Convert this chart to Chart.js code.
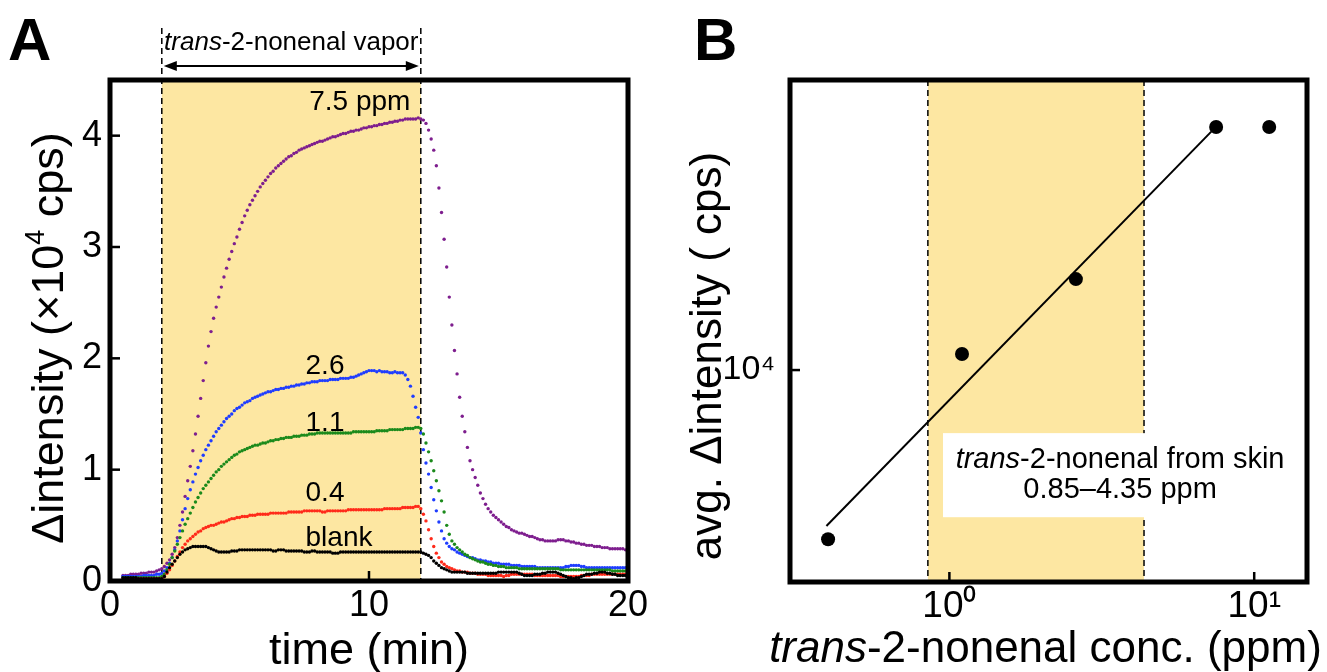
<!DOCTYPE html>
<html>
<head>
<meta charset="utf-8">
<script src="https://cdn.jsdelivr.net/npm/chart.js@4"></script>
<style>
  html, body { margin: 0; padding: 0; background: #fff; }
  #wrap { position: relative; width: 1327px; height: 672px; overflow: hidden; }
  canvas { position: absolute; top: 0; }
  #chartA { left: 0; }
  #chartB { left: 660px; }
</style>
</head>
<body>
<div id="wrap">
  <canvas id="chartA" width="660" height="672"></canvas>
  <canvas id="chartB" width="667" height="672"></canvas>
</div>
<script>
// ---- panel A: response vs time, one reading every 0.1 min from 0.5 to 20 min (x10^4 cps)
const tStart = 0.5, tStep = 0.1;

const blank = [
  0.03, 0.03, 0.03, 0.03, 0.03,
  0.03, 0.02, 0.02, 0.02, 0.02, 0.02, 0.02, 0.02, 0.02, 0.02,
  0.02, 0.04, 0.08, 0.12, 0.15, 0.18, 0.21, 0.24, 0.26, 0.28,
  0.29, 0.30, 0.31, 0.31, 0.31, 0.31, 0.31, 0.31, 0.30, 0.29,
  0.28, 0.27, 0.26, 0.26, 0.26, 0.26, 0.26, 0.27, 0.27, 0.27,
  0.28, 0.28, 0.28, 0.28, 0.28, 0.28, 0.28, 0.28, 0.28, 0.28,
  0.28, 0.28, 0.28, 0.27, 0.27, 0.28, 0.28, 0.28, 0.27, 0.27,
  0.27, 0.27, 0.27, 0.27, 0.27, 0.26, 0.26, 0.26, 0.27, 0.27,
  0.26, 0.26, 0.26, 0.26, 0.26, 0.26, 0.25, 0.25, 0.25, 0.26,
  0.26, 0.26, 0.26, 0.26, 0.26, 0.26, 0.26, 0.26, 0.26, 0.26,
  0.26, 0.26, 0.26, 0.26, 0.26, 0.26, 0.26, 0.26, 0.26, 0.26,
  0.26, 0.26, 0.26, 0.26, 0.26, 0.26, 0.26, 0.26, 0.26, 0.26,
  0.26, 0.25, 0.24, 0.23, 0.21, 0.18, 0.16, 0.14, 0.12, 0.11,
  0.10, 0.09, 0.08, 0.08, 0.08, 0.08, 0.08, 0.08, 0.07, 0.07,
  0.07, 0.07, 0.07, 0.07, 0.07, 0.07, 0.07, 0.07, 0.07, 0.07,
  0.08, 0.08, 0.08, 0.08, 0.08, 0.08, 0.08, 0.08, 0.07, 0.06,
  0.05, 0.05, 0.05, 0.05, 0.06, 0.06, 0.06, 0.07, 0.07, 0.08,
  0.08, 0.08, 0.08, 0.07, 0.06, 0.05, 0.04, 0.03, 0.03, 0.02,
  0.03, 0.03, 0.04, 0.05, 0.06, 0.06, 0.06, 0.07, 0.07, 0.08,
  0.08, 0.08, 0.07, 0.07, 0.06, 0.06, 0.05, 0.05, 0.05, 0.05,
  0.05
];

const ppm04 = [
  0.02, 0.02, 0.02, 0.02, 0.02,
  0.02, 0.02, 0.02, 0.02, 0.02, 0.02, 0.02, 0.02, 0.02, 0.02,
  0.02, 0.04, 0.07, 0.10, 0.14, 0.18, 0.22, 0.26, 0.30, 0.33,
  0.36, 0.38, 0.40, 0.42, 0.44, 0.45, 0.47, 0.48, 0.49, 0.50,
  0.50, 0.51, 0.52, 0.53, 0.53, 0.54, 0.55, 0.56, 0.56, 0.57,
  0.57, 0.58, 0.58, 0.58, 0.59, 0.59, 0.59, 0.60, 0.60, 0.60,
  0.60, 0.60, 0.61, 0.61, 0.61, 0.61, 0.61, 0.61, 0.61, 0.62,
  0.62, 0.62, 0.62, 0.62, 0.62, 0.63, 0.63, 0.63, 0.63, 0.63,
  0.63, 0.63, 0.62, 0.62, 0.63, 0.63, 0.63, 0.63, 0.63, 0.63,
  0.63, 0.63, 0.64, 0.64, 0.64, 0.64, 0.64, 0.64, 0.64, 0.64,
  0.64, 0.64, 0.64, 0.64, 0.64, 0.64, 0.65, 0.65, 0.65, 0.65,
  0.65, 0.65, 0.65, 0.66, 0.66, 0.66, 0.66, 0.66, 0.67, 0.67,
  0.65, 0.60, 0.54, 0.46, 0.38, 0.31, 0.25, 0.21, 0.17, 0.15,
  0.13, 0.12, 0.11, 0.10, 0.09, 0.09, 0.08, 0.08, 0.08, 0.07,
  0.07, 0.07, 0.06, 0.06, 0.06, 0.06, 0.05, 0.05, 0.05, 0.05,
  0.05, 0.05, 0.04, 0.05, 0.05, 0.06, 0.06, 0.06, 0.06, 0.06,
  0.06, 0.06, 0.06, 0.06, 0.05, 0.05, 0.05, 0.05, 0.05, 0.05,
  0.05, 0.05, 0.05, 0.05, 0.04, 0.04, 0.04, 0.04, 0.04, 0.04,
  0.04, 0.04, 0.05, 0.05, 0.05, 0.05, 0.06, 0.06, 0.06, 0.06,
  0.06, 0.06, 0.06, 0.06, 0.06, 0.06, 0.06, 0.06, 0.06, 0.06,
  0.06
];

const ppm11 = [
  0.03, 0.03, 0.03, 0.03, 0.03,
  0.03, 0.03, 0.03, 0.03, 0.03, 0.03, 0.03, 0.03, 0.03, 0.03,
  0.04, 0.06, 0.10, 0.15, 0.21, 0.27, 0.33, 0.39, 0.45, 0.51,
  0.56, 0.61, 0.66, 0.71, 0.75, 0.79, 0.83, 0.86, 0.89, 0.92,
  0.95, 0.98, 1.00, 1.03, 1.05, 1.07, 1.09, 1.11, 1.13, 1.14,
  1.16, 1.17, 1.18, 1.19, 1.20, 1.21, 1.22, 1.22, 1.23, 1.24,
  1.24, 1.25, 1.26, 1.26, 1.27, 1.27, 1.28, 1.28, 1.29, 1.29,
  1.29, 1.30, 1.30, 1.30, 1.31, 1.31, 1.31, 1.32, 1.32, 1.32,
  1.33, 1.33, 1.33, 1.33, 1.33, 1.33, 1.33, 1.33, 1.33, 1.33,
  1.33, 1.33, 1.33, 1.33, 1.34, 1.34, 1.34, 1.34, 1.34, 1.34,
  1.34, 1.34, 1.34, 1.35, 1.35, 1.35, 1.35, 1.35, 1.36, 1.36,
  1.36, 1.36, 1.36, 1.36, 1.37, 1.37, 1.37, 1.37, 1.38, 1.38,
  1.37, 1.32, 1.24, 1.16, 1.08, 0.99, 0.90, 0.81, 0.72, 0.62,
  0.50, 0.42, 0.36, 0.33, 0.30, 0.28, 0.26, 0.24, 0.23, 0.21,
  0.20, 0.19, 0.18, 0.17, 0.17, 0.16, 0.15, 0.15, 0.14, 0.14,
  0.13, 0.13, 0.13, 0.12, 0.12, 0.12, 0.12, 0.12, 0.11, 0.11,
  0.11, 0.11, 0.11, 0.11, 0.11, 0.11, 0.11, 0.11, 0.11, 0.11,
  0.11, 0.11, 0.11, 0.11, 0.10, 0.10, 0.10, 0.10, 0.10, 0.10,
  0.10, 0.10, 0.10, 0.10, 0.10, 0.10, 0.10, 0.10, 0.10, 0.10,
  0.10, 0.10, 0.10, 0.10, 0.09, 0.09, 0.09, 0.09, 0.09, 0.09,
  0.09
];

const ppm26 = [
  0.04, 0.04, 0.04, 0.04, 0.04,
  0.04, 0.04, 0.04, 0.05, 0.05, 0.05, 0.05, 0.05, 0.06, 0.06,
  0.07, 0.09, 0.12, 0.16, 0.21, 0.28, 0.36, 0.45, 0.55, 0.65,
  0.74, 0.82, 0.89, 0.96, 1.02, 1.08, 1.13, 1.18, 1.22, 1.26,
  1.30, 1.34, 1.37, 1.40, 1.43, 1.46, 1.48, 1.50, 1.53, 1.55,
  1.56, 1.58, 1.60, 1.61, 1.62, 1.64, 1.65, 1.66, 1.67, 1.68,
  1.69, 1.70, 1.70, 1.71, 1.72, 1.72, 1.73, 1.73, 1.74, 1.74,
  1.75, 1.75, 1.76, 1.76, 1.77, 1.77, 1.78, 1.78, 1.79, 1.79,
  1.79, 1.80, 1.80, 1.80, 1.80, 1.81, 1.81, 1.81, 1.81, 1.82,
  1.82, 1.82, 1.82, 1.83, 1.83, 1.84, 1.85, 1.86, 1.87, 1.88,
  1.89, 1.89, 1.89, 1.88, 1.89, 1.88, 1.88, 1.88, 1.87, 1.87,
  1.88, 1.87, 1.87, 1.87, 1.85, 1.81, 1.75, 1.66, 1.56, 1.47,
  1.33, 1.18, 1.06, 0.96, 0.84, 0.73, 0.63, 0.53, 0.45, 0.38,
  0.34, 0.31, 0.29, 0.28, 0.26, 0.25, 0.24, 0.23, 0.22, 0.21,
  0.21, 0.20, 0.19, 0.19, 0.18, 0.18, 0.17, 0.17, 0.16, 0.16,
  0.16, 0.15, 0.15, 0.15, 0.15, 0.14, 0.14, 0.14, 0.14, 0.13,
  0.13, 0.13, 0.13, 0.13, 0.13, 0.12, 0.12, 0.12, 0.12, 0.12,
  0.12, 0.12, 0.12, 0.12, 0.12, 0.12, 0.13, 0.13, 0.14, 0.14,
  0.14, 0.14, 0.13, 0.13, 0.12, 0.12, 0.12, 0.12, 0.12, 0.12,
  0.12, 0.12, 0.12, 0.12, 0.12, 0.12, 0.12, 0.12, 0.12, 0.12,
  0.12
];

const ppm75 = [
  0.05, 0.05, 0.05, 0.06, 0.06,
  0.06, 0.06, 0.07, 0.07, 0.07, 0.08, 0.08, 0.08, 0.09, 0.10,
  0.11, 0.13, 0.16, 0.19, 0.24, 0.30, 0.39, 0.50, 0.62, 0.76,
  0.90, 1.03, 1.17, 1.32, 1.48, 1.64, 1.80, 1.96, 2.11, 2.24,
  2.36, 2.46, 2.55, 2.64, 2.73, 2.81, 2.89, 2.96, 3.03, 3.09,
  3.16, 3.22, 3.28, 3.33, 3.38, 3.42, 3.46, 3.50, 3.54, 3.57,
  3.60, 3.63, 3.66, 3.68, 3.71, 3.73, 3.75, 3.77, 3.79, 3.81,
  3.82, 3.84, 3.85, 3.87, 3.88, 3.89, 3.90, 3.91, 3.92, 3.93,
  3.94, 3.95, 3.95, 3.96, 3.97, 3.98, 3.99, 3.99, 4.00, 4.01,
  4.02, 4.02, 4.03, 4.04, 4.04, 4.05, 4.05, 4.06, 4.07, 4.07,
  4.08, 4.08, 4.09, 4.09, 4.10, 4.10, 4.11, 4.11, 4.12, 4.12,
  4.13, 4.13, 4.14, 4.14, 4.15, 4.15, 4.15, 4.15, 4.15, 4.16,
  4.15, 4.14, 4.11, 4.05, 3.97, 3.87, 3.73, 3.53, 3.31, 3.07,
  2.82, 2.55, 2.30, 2.07, 1.86, 1.65, 1.48, 1.34, 1.20, 1.08,
  1.00, 0.93, 0.86, 0.79, 0.74, 0.69, 0.65, 0.62, 0.59, 0.57,
  0.55, 0.53, 0.51, 0.49, 0.48, 0.46, 0.45, 0.44, 0.43, 0.43,
  0.42, 0.41, 0.40, 0.40, 0.39, 0.38, 0.37, 0.37, 0.36, 0.36,
  0.36, 0.36, 0.36, 0.37, 0.37, 0.37, 0.36, 0.36, 0.35, 0.35,
  0.34, 0.34, 0.33, 0.33, 0.32, 0.32, 0.32, 0.31, 0.31, 0.31,
  0.30, 0.30, 0.30, 0.29, 0.29, 0.29, 0.29, 0.29, 0.29, 0.28,
  0.28
];

const times = blank.map((_, i) => +(tStart + i * tStep).toFixed(1));
const timeTicks = [0, 10, 20];
const intensityTicks = [0, 1, 2, 3, 4];
const vaporOn = 2, vaporOff = 12;
const curveLabels = ['7.5 ppm', '2.6', '1.1', '0.4', 'blank'];

// ---- panel B: average response vs concentration (log-log)
const conc = [0.4, 1.1, 2.6, 7.5, 11.2];
const avgIntensity = [4590, 10770, 15200, 30600, 30600];
const fitConc = [0.395, 7.23];
const fitIntensity = [4880, 29970];
const skinRange = [0.85, 4.35];
const concTicks = [1, 10];
const avgTicks = [10000];

// ---- styling
const FONT = '"Liberation Sans", Arial, Helvetica, sans-serif';
const SHADE = '#fde7a2';
const f = (size, style) => (style ? style + ' ' : '') + size + 'px ' + FONT;
const SUP = {'0': '\u2070', '1': '\u00b9', '2': '\u00b2', '3': '\u00b3', '4': '\u2074'};
const pow10 = v => '10' + String(Math.round(Math.log10(v))).split('').map(c => SUP[c]).join('');

Chart.defaults.font.family = FONT;
Chart.defaults.color = '#000';

function drawRich(ctx, parts, x, y, align) {
  let w = 0;
  for (const p of parts) { ctx.font = p.font; w += ctx.measureText(p.text).width; }
  let cx = align === 'center' ? x - w / 2 : align === 'right' ? x - w : x;
  ctx.textAlign = 'left';
  ctx.textBaseline = 'alphabetic';
  for (const p of parts) {
    ctx.font = p.font;
    ctx.fillText(p.text, cx, y + (p.dy || 0));
    cx += ctx.measureText(p.text).width;
  }
}

function frameAndTicks(chart) {
  const {ctx, chartArea: a, scales: {x, y}} = chart;
  ctx.save();
  ctx.strokeStyle = '#000';
  ctx.lineWidth = 2.5;
  x.ticks.forEach(t => {
    const px = x.getPixelForValue(t.value);
    ctx.beginPath(); ctx.moveTo(px, a.bottom); ctx.lineTo(px, a.bottom - 10); ctx.stroke();
  });
  y.ticks.forEach(t => {
    const py = y.getPixelForValue(t.value);
    ctx.beginPath(); ctx.moveTo(a.left, py); ctx.lineTo(a.left + 10, py); ctx.stroke();
  });
  ctx.lineWidth = 5;
  ctx.strokeRect(a.left, a.top, a.right - a.left, a.bottom - a.top);
  ctx.restore();
}

function rotatedTitle(ctx, parts, x, y) {
  ctx.save();
  ctx.translate(x, y);
  ctx.rotate(-Math.PI / 2);
  drawRich(ctx, parts, 0, 0, 'center');
  ctx.restore();
}

const panelA = {
  id: 'panelA',
  beforeDatasetsDraw(chart) {
    const {ctx, chartArea: a, scales: {x}} = chart;
    const x0 = x.getPixelForValue(vaporOn), x1 = x.getPixelForValue(vaporOff);
    ctx.save();
    ctx.fillStyle = SHADE;
    ctx.fillRect(x0, a.top, x1 - x0, a.bottom - a.top);
    ctx.strokeStyle = '#000';
    ctx.lineWidth = 1.5;
    ctx.setLineDash([6, 4]);
    [x0, x1].forEach(px => {
      ctx.beginPath(); ctx.moveTo(px, 28); ctx.lineTo(px, a.bottom); ctx.stroke();
    });
    ctx.restore();
  },
  afterDraw(chart) {
    const {ctx, scales: {x, y}} = chart;
    frameAndTicks(chart);
    ctx.save();
    ctx.fillStyle = '#000';
    // curve labels
    const lx = x.getPixelForValue(7.55);
    drawRich(ctx, [{text: curveLabels[0], font: f(28)}], x.getPixelForValue(11.6), y.getPixelForValue(4.23), 'right');
    drawRich(ctx, [{text: curveLabels[1], font: f(28)}], lx, y.getPixelForValue(1.86), 'left');
    drawRich(ctx, [{text: curveLabels[2], font: f(28)}], lx, y.getPixelForValue(1.35), 'left');
    drawRich(ctx, [{text: curveLabels[3], font: f(28)}], lx, y.getPixelForValue(0.72), 'left');
    drawRich(ctx, [{text: curveLabels[4], font: f(28)}], lx, y.getPixelForValue(0.31), 'left');
    // exposure arrow
    const x0 = x.getPixelForValue(vaporOn) + 2, x1 = x.getPixelForValue(vaporOff) - 2, ay = 66;
    ctx.strokeStyle = '#000';
    ctx.lineWidth = 2;
    ctx.beginPath(); ctx.moveTo(x0 + 8, ay); ctx.lineTo(x1 - 8, ay); ctx.stroke();
    ctx.beginPath(); ctx.moveTo(x0, ay); ctx.lineTo(x0 + 13, ay - 5); ctx.lineTo(x0 + 13, ay + 5); ctx.closePath(); ctx.fill();
    ctx.beginPath(); ctx.moveTo(x1, ay); ctx.lineTo(x1 - 13, ay - 5); ctx.lineTo(x1 - 13, ay + 5); ctx.closePath(); ctx.fill();
    drawRich(ctx, [{text: 'trans', font: f(26, 'italic')}, {text: '-2-nonenal vapor', font: f(26)}], (x0 + x1) / 2, 50, 'center');
    // panel letter and axis titles
    drawRich(ctx, [{text: 'A', font: f(60, 'bold')}], 8, 60, 'left');
    drawRich(ctx, [{text: 'time (min)', font: f(45)}], x.getPixelForValue(10), 664, 'center');
    rotatedTitle(ctx, [
      {text: '\u0394intensity (\u00d710', font: f(45)},
      {text: '4', font: f(27), dy: -19},
      {text: ' cps)', font: f(45)}
    ], 63, 338);
    ctx.restore();
  }
};

const panelB = {
  id: 'panelB',
  beforeDatasetsDraw(chart) {
    const {ctx, chartArea: a, scales: {x, y}} = chart;
    const x0 = x.getPixelForValue(skinRange[0]), x1 = x.getPixelForValue(skinRange[1]);
    ctx.save();
    ctx.fillStyle = SHADE;
    ctx.fillRect(x0, a.top, x1 - x0, a.bottom - a.top);
    ctx.strokeStyle = '#000';
    ctx.lineWidth = 1.5;
    ctx.setLineDash([6, 4]);
    [x0, x1].forEach(px => {
      ctx.beginPath(); ctx.moveTo(px, a.top); ctx.lineTo(px, a.bottom); ctx.stroke();
    });
    ctx.setLineDash([]);
    // label box
    const bx0 = x.getPixelForValue(0.953), bx1 = x.getPixelForValue(13.8);
    const by0 = y.getPixelForValue(7480), by1 = y.getPixelForValue(5080);
    ctx.fillStyle = '#fff';
    ctx.fillRect(bx0, by0, bx1 - bx0, by1 - by0);
    ctx.fillStyle = '#000';
    const cx = x.getPixelForValue(3.63);
    drawRich(ctx, [{text: 'trans', font: f(29, 'italic')}, {text: '-2-nonenal from skin', font: f(29)}], cx, y.getPixelForValue(6370), 'center');
    drawRich(ctx, [{text: '0.85\u20134.35 ppm', font: f(29)}], cx, y.getPixelForValue(5550), 'center');
    ctx.restore();
  },
  afterDraw(chart) {
    const {ctx} = chart;
    frameAndTicks(chart);
    ctx.save();
    ctx.fillStyle = '#000';
    drawRich(ctx, [{text: 'B', font: f(60, 'bold')}], 34, 60, 'left');
    drawRich(ctx, [{text: 'trans', font: f(44, 'italic')}, {text: '-2-nonenal conc. (ppm)', font: f(44)}],
      (chart.chartArea.left + chart.chartArea.right) / 2 - 3, 662, 'center');
    rotatedTitle(ctx, [{text: 'avg. \u0394intensity ( cps)', font: f(44)}], 61, 356);
    ctx.restore();
  }
};

function series(values, color) {
  return {
    data: times.map((t, i) => ({x: t, y: values[i]})),
    showLine: false,
    pointRadius: 1.7,
    pointBorderWidth: 0,
    pointBackgroundColor: color,
    borderColor: color
  };
}

const bareGrid = {display: false, drawTicks: false};
const noBorder = {display: false};

new Chart(document.getElementById('chartA'), {
  type: 'line',
  data: {
    datasets: [
      series(blank, '#000000'),
      series(ppm04, '#ff2a1a'),
      series(ppm11, '#1b8a1b'),
      series(ppm26, '#1f3dff'),
      series(ppm75, '#7e1e8e')
    ]
  },
  options: {
    responsive: false,
    animation: false,
    devicePixelRatio: 1,
    layout: {padding: {left: 0, right: 32, top: 80, bottom: 0}},
    plugins: {legend: {display: false}, tooltip: {enabled: false}},
    scales: {
      x: {
        type: 'linear', min: 0, max: 20,
        grid: bareGrid, border: noBorder,
        afterFit: s => { s.height = 91; },
        afterBuildTicks: s => { s.ticks = timeTicks.map(v => ({value: v})); },
        ticks: {font: {size: 36}, padding: 3, maxRotation: 0, autoSkip: false}
      },
      y: {
        min: 0, max: 4.5,
        grid: bareGrid, border: noBorder,
        afterFit: s => { s.width = 110; },
        afterBuildTicks: s => { s.ticks = intensityTicks.map(v => ({value: v})); },
        ticks: {font: {size: 36}, padding: 8, autoSkip: false}
      }
    }
  },
  plugins: [panelA]
});

new Chart(document.getElementById('chartB'), {
  type: 'scatter',
  data: {
    datasets: [
      {
        data: conc.map((c, i) => ({x: c, y: avgIntensity[i]})),
        pointRadius: 7,
        pointBackgroundColor: '#000',
        pointBorderWidth: 0
      },
      {
        data: fitConc.map((c, i) => ({x: c, y: fitIntensity[i]})),
        showLine: true,
        borderColor: '#000',
        borderWidth: 2,
        pointRadius: 0
      }
    ]
  },
  options: {
    responsive: false,
    animation: false,
    devicePixelRatio: 1,
    layout: {padding: {left: 0, right: 20, top: 80, bottom: 0}},
    plugins: {legend: {display: false}, tooltip: {enabled: false}},
    scales: {
      x: {
        type: 'logarithmic', min: 0.3, max: 14.9,
        grid: bareGrid, border: noBorder,
        afterFit: s => { s.height = 90; },
        afterBuildTicks: s => { s.ticks = concTicks.map(v => ({value: v})); },
        ticks: {font: {size: 37}, padding: 3, maxRotation: 0, autoSkip: false, callback: v => pow10(v)}
      },
      y: {
        type: 'logarithmic', min: 3770, max: 38000,
        grid: bareGrid, border: noBorder,
        afterFit: s => { s.width = 130; },
        afterBuildTicks: s => { s.ticks = avgTicks.map(v => ({value: v})); },
        ticks: {font: {size: 34}, padding: 15, autoSkip: false, callback: v => pow10(v)}
      }
    }
  },
  plugins: [panelB]
});
</script>
</body>
</html>
